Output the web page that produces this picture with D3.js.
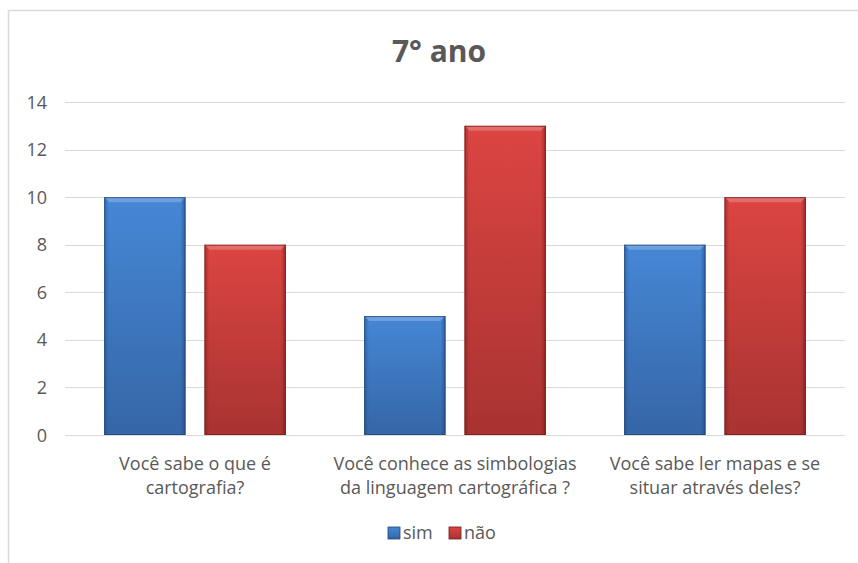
<!DOCTYPE html>
<html>
<head>
<meta charset="utf-8">
<script src="https://cdn.jsdelivr.net/npm/d3@7"></script>
<style>
  body { margin: 0; background: #fff; }
  svg text { font-family: "Open Sans", Lato, sans-serif; fill: #595959; }
</style>
</head>
<body>
<div class="chart"></div>
<script>
var categories = [
    ["Você sabe o que é", "cartografia?"],
    ["Você conhece as simbologias", "da linguagem cartográfica ?"],
    ["Você sabe ler mapas e se", "situar através deles?"]
];
var seriesNames = ["sim", "não"];
var sim = [10, 5, 8];
var nao = [8, 13, 10];
var yTicks = [0, 2, 4, 6, 8, 10, 12, 14];

var colours = {
    "sim": { top: "#4687d6", bottom: "#3566a6", edge: "#1f4576" },
    "não": { top: "#dc4542", bottom: "#a83331", edge: "#701a18" }
};

var width = 858, height = 563;
var svg = d3.select(".chart").append("svg").attr("width", width).attr("height", height);

// chart frame (only top + left visible)
svg.append("path").attr("d", "M8.5,563 L8.5,10.5 L858,10.5")
    .attr("fill", "none").attr("stroke", "#d9d9d9").attr("stroke-width", 1.5);

var x0 = d3.scaleBand().domain(d3.range(categories.length)).range([65, 845]);
var x1 = d3.scaleBand().domain(seriesNames).range([0, x0.bandwidth()]).paddingInner(0.19).paddingOuter(0.39);
var y = d3.scaleLinear().domain([0, 14]).range([435, 102]);

// gradients
var defs = svg.append("defs");
seriesNames.forEach((s, i) => {
    var c = colours[s];
    var g = defs.append("linearGradient").attr("id", "v" + i).attr("x1", 0).attr("y1", 0).attr("x2", 0).attr("y2", 1);
    g.append("stop").attr("offset", "0%").attr("stop-color", c.top);
    g.append("stop").attr("offset", "100%").attr("stop-color", c.bottom);
    var h = defs.append("linearGradient").attr("id", "h" + i).attr("x1", 0).attr("y1", 0).attr("x2", 1).attr("y2", 0);
    h.append("stop").attr("offset", "0%").attr("stop-color", c.edge).attr("stop-opacity", 0.45);
    h.append("stop").attr("offset", "6%").attr("stop-color", c.edge).attr("stop-opacity", 0);
    h.append("stop").attr("offset", "94%").attr("stop-color", c.edge).attr("stop-opacity", 0);
    h.append("stop").attr("offset", "100%").attr("stop-color", c.edge).attr("stop-opacity", 0.6);
});

// gridlines + y labels
svg.append("g").selectAll("line").data(yTicks).enter().append("line")
    .attr("x1", 65).attr("x2", 845)
    .attr("y1", d => Math.round(y(d)) + 0.5).attr("y2", d => Math.round(y(d)) + 0.5)
    .attr("stroke", "#d9d9d9").attr("stroke-width", 1.2);

svg.append("g").selectAll("text").data(yTicks).enter().append("text")
    .attr("x", 47).attr("y", d => y(d) + 6.5)
    .attr("text-anchor", "end").attr("font-size", 18)
    .text(d => d);

// bars
var rows = [];
categories.forEach((c, i) => {
    rows.push({ cat: i, s: "sim", si: 0, v: sim[i] });
    rows.push({ cat: i, s: "não", si: 1, v: nao[i] });
});

var bars = svg.append("g").selectAll("g").data(rows).enter().append("g")
    .attr("transform", d => `translate(${x0(d.cat) + x1(d.s)},0)`);

var bw = x1.bandwidth();
bars.append("rect")
    .attr("y", d => y(d.v)).attr("width", bw).attr("height", d => y(0) - y(d.v))
    .attr("fill", d => `url(#v${d.si})`);
bars.append("rect")
    .attr("y", d => y(d.v)).attr("width", bw).attr("height", d => y(0) - y(d.v))
    .attr("fill", d => `url(#h${d.si})`);
// top bevel
bars.append("path")
    .attr("d", d => {
        var t = y(d.v);
        return `M0,${t} L${bw},${t} L${bw - 5},${t + 5} L5,${t + 5} Z`;
    })
    .attr("fill", "#fff").attr("fill-opacity", 0.22);
bars.append("rect")
    .attr("x", 0.5).attr("y", d => y(d.v) + 0.5).attr("width", bw - 1).attr("height", d => y(0) - y(d.v) - 1)
    .attr("fill", "none").attr("stroke", d => colours[d.s].edge).attr("stroke-opacity", 0.7);

// category labels
var labels = svg.append("g").selectAll("text").data(categories).enter().append("text")
    .attr("x", (d, i) => x0(i) + x0.bandwidth() / 2)
    .attr("y", 470)
    .attr("text-anchor", "middle").attr("font-size", 18);
labels.selectAll("tspan").data(d => d).enter().append("tspan")
    .attr("x", function () { return d3.select(this.parentNode).attr("x"); })
    .attr("dy", (d, i) => i === 0 ? 0 : 24)
    .text(d => d);

// title
svg.append("text").attr("x", 439).attr("y", 62)
    .attr("text-anchor", "middle").attr("font-size", 30).attr("font-weight", "bold")
    .text("7° ano");

// legend
var legendX = [388, 449];
var lg = svg.append("g").selectAll("g").data(seriesNames).enter().append("g")
    .attr("transform", (d, i) => `translate(${legendX[i]},527)`);
lg.append("rect").attr("width", 12).attr("height", 12)
    .attr("fill", (d, i) => `url(#v${i})`).attr("stroke", d => colours[d].edge).attr("stroke-width", 0.8);
lg.append("text").attr("x", 15).attr("y", 12).attr("font-size", 18).text(d => d);
</script>
</body>
</html>
